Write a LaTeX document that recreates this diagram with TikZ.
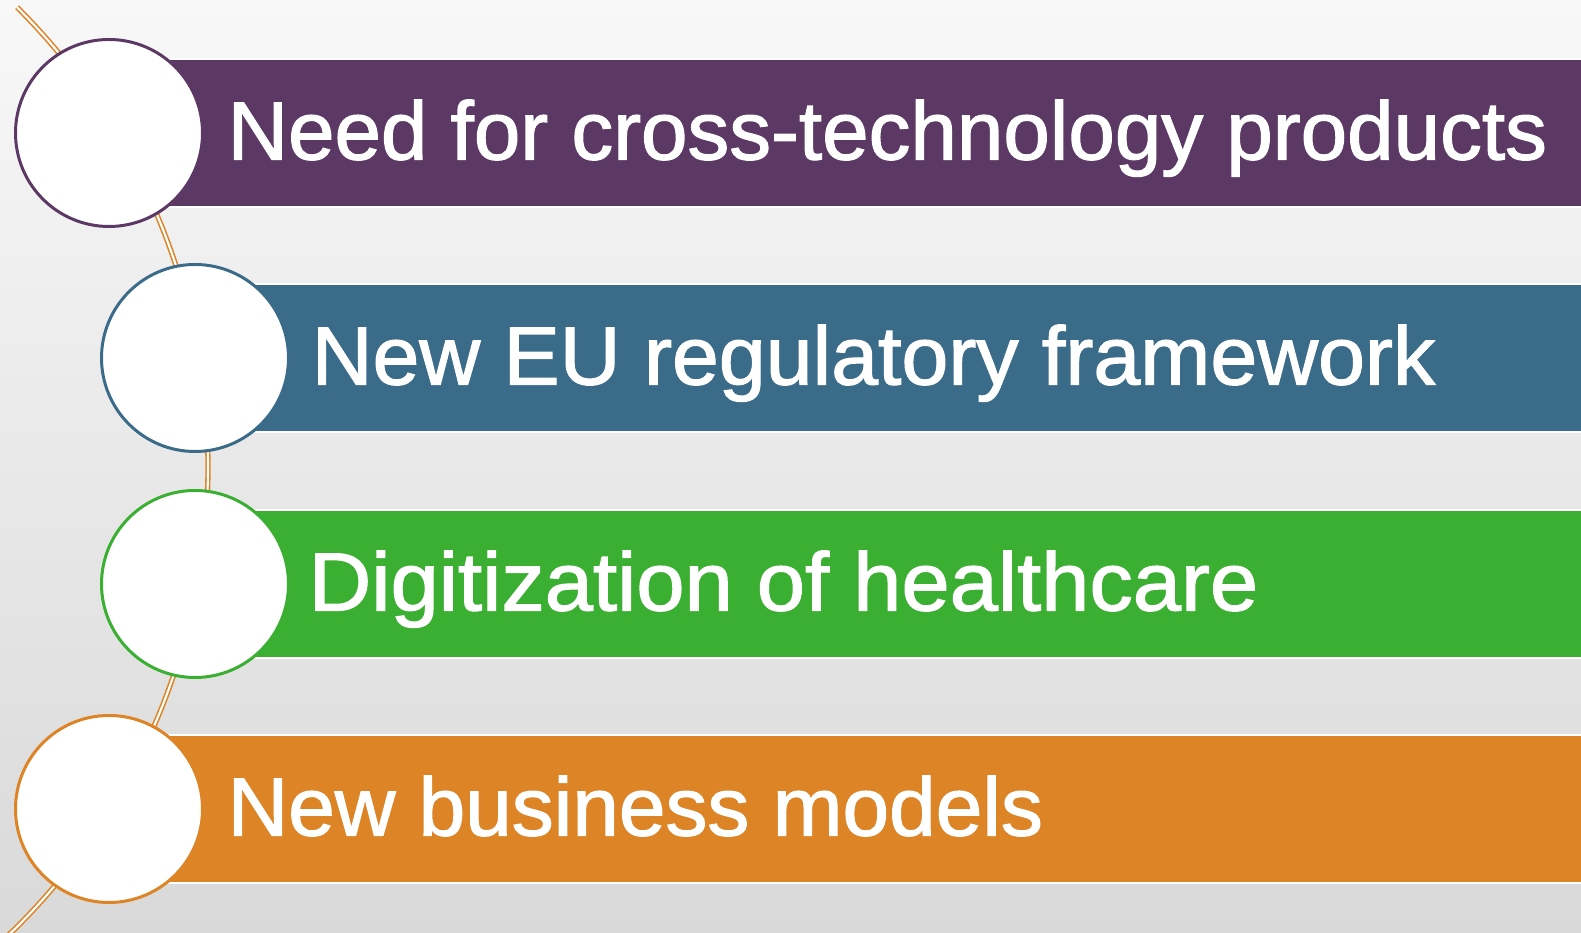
\documentclass[tikz,border=0pt]{standalone}
\usepackage{fontspec}
\setmainfont{Liberation Sans}
\newfontfamily\barfont[FakeBold=1.5]{Liberation Sans}
\usepackage{tikz}

\definecolor{barpurple}{RGB}{92,57,100}
\definecolor{barblue}{RGB}{58,107,136}
\definecolor{bargreen}{RGB}{58,175,50}
\definecolor{barorange}{RGB}{220,132,38}
\definecolor{bgtop}{RGB}{248,248,248}
\definecolor{bgbottom}{RGB}{217,217,217}

\begin{document}
\begin{tikzpicture}[
  bar/.style={draw=white, line width=0.6pt, minimum width=15cm, minimum height=1.48cm, inner sep=0pt, anchor=west},
  ring/.style={circle, fill=white, line width=0.85pt, minimum size=1.87cm, inner sep=0pt},
  itemtext/.style={text=white, font=\barfont\fontsize{23.5}{28}\selectfont, anchor=base west, inner sep=0pt},
  arcline/.style={draw=barorange, line width=0.45pt, double=white, double distance=0.6pt}
]
            \useasboundingbox (0,0) rectangle (15.81,9.33);
            \clip (0,0) rectangle (15.81,9.33);
            \shade[top color=bgtop, bottom color=bgbottom] (0,0) rectangle (15.81,9.33);
            % arc behind the circles
            \draw[arcline] (-4.41,4.66) ++(45.1:6.49) arc[start angle=45.1, end angle=-47, radius=6.49];
            % bars
            \node[bar, fill=barpurple] (b1) at (1.09,8.00) {};
            \node[bar, fill=barblue] (b2) at (1.95,5.75) {};
            \node[bar, fill=bargreen] (b3) at (1.95,3.49) {};
            \node[bar, fill=barorange] (b4) at (1.09,1.24) {};
            % circles
            \node[ring, draw=barpurple] (c1) at (1.09,8.00) {};
            \node[ring, draw=barblue] (c2) at (1.95,5.75) {};
            \node[ring, draw=bargreen] (c3) at (1.95,3.49) {};
            \node[ring, draw=barorange] (c4) at (1.09,1.24) {};
            % texts
            \node[itemtext] (t1) at (2.27,7.735) {\addfontfeatures{FakeStretch=1.012}Need for cross-technology products};
            \node[itemtext] (t2) at (3.11,5.485) {\addfontfeatures{FakeStretch=1.02}New EU regulatory framework};
            \node[itemtext] (t3) at (3.08,3.225) {\addfontfeatures{FakeStretch=1.05}Digitization of healthcare};
            \node[itemtext] (t4) at (2.27,0.975) {\addfontfeatures{FakeStretch=1.015}New business models};
        \end{tikzpicture}
\end{document}
